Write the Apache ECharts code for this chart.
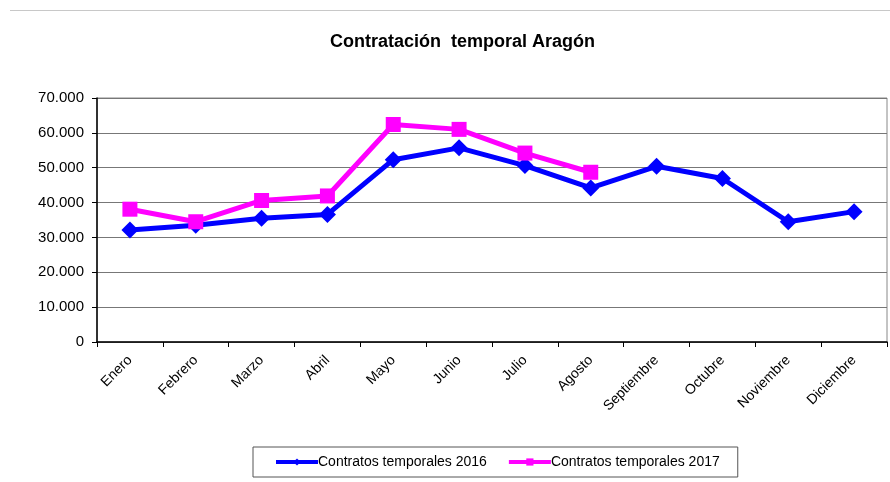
<!DOCTYPE html>
<html>
<head>
<meta charset="utf-8">
<script src="https://cdn.jsdelivr.net/npm/echarts@6/dist/echarts.min.js"></script>
<style>
  html, body { margin: 0; padding: 0; background: #fff; }
  #main { width: 890px; height: 482px; }
</style>
</head>
<body>
<div id="main"></div>
<script>
// datos
var meses = ['Enero', 'Febrero', 'Marzo', 'Abril', 'Mayo', 'Junio', 'Julio', 'Agosto', 'Septiembre', 'Octubre', 'Noviembre', 'Diciembre'];
var temporales2016 = [32100, 33500, 35500, 36600, 52300, 55700, 50600, 44200, 50400, 46900, 34500, 37400];
var temporales2017 = [38100, 34500, 40600, 41900, 62400, 61000, 54200, 48700];
var nombres = ['Contratos temporales 2016', 'Contratos temporales 2017'];

function miles(v) {
  return String(v).replace(/\B(?=(\d{3})+(?!\d))/g, '.');
}

var myChart = echarts.init(document.getElementById('main'));
var option = {
  backgroundColor: '#fff',
  animation: false,
  textStyle: { fontFamily: 'Liberation Sans, Arial, sans-serif' },
  title: {
    text: 'Contratación  temporal Aragón',
    left: 325,
    top: 28,
    textStyle: { fontSize: 18, fontWeight: 'bold', color: '#000' }
  },
  graphic: [
    { type: 'line', shape: { x1: 10, y1: 10.5, x2: 890, y2: 10.5 }, style: { stroke: '#c8c8c8', lineWidth: 1 } }
  ],
  legend: {
    data: nombres,
    left: 253,
    top: 447,
    itemGap: 20,
    itemWidth: 42,
    itemHeight: 9,
    padding: [8, 18, 8, 21],
    borderColor: '#555',
    borderWidth: 1,
    borderRadius: 0,
    lineStyle: { width: 4 },
    textStyle: { fontSize: 14, color: '#000', padding: [0, 0, 0, -5] }
  },
  grid: {
    left: 97, right: 3, top: 98, bottom: 140,
    show: true, borderColor: '#888', borderWidth: 1
  },
  xAxis: {
    type: 'category',
    data: meses,
    boundaryGap: true,
    axisLine: { lineStyle: { color: '#000', width: 1.5 } },
    axisTick: { show: true, length: 5, lineStyle: { color: '#000' } },
    axisLabel: { rotate: 45, fontSize: 14, color: '#000', margin: 16 },
    splitLine: { show: false }
  },
  yAxis: {
    type: 'value',
    min: 0, max: 70000, interval: 10000,
    axisLine: { show: true, lineStyle: { color: '#000', width: 1.5 } },
    axisTick: { show: true, length: 5, lineStyle: { color: '#000' } },
    axisLabel: { fontSize: 15, color: '#000', margin: 13, formatter: miles },
    splitLine: { lineStyle: { color: '#777', width: 1 } }
  },
  series: [
    {
      name: nombres[0],
      type: 'line',
      data: temporales2016,
      symbol: 'diamond',
      symbolSize: 17,
      itemStyle: { color: '#0000ff' },
      lineStyle: { color: '#0000ff', width: 5 },
      z: 2
    },
    {
      name: nombres[1],
      type: 'line',
      data: temporales2017,
      symbol: 'rect',
      symbolSize: 15,
      itemStyle: { color: '#ff00ff' },
      lineStyle: { color: '#ff00ff', width: 5 },
      z: 3
    }
  ]
};
myChart.setOption(option);
</script>
</body>
</html>
